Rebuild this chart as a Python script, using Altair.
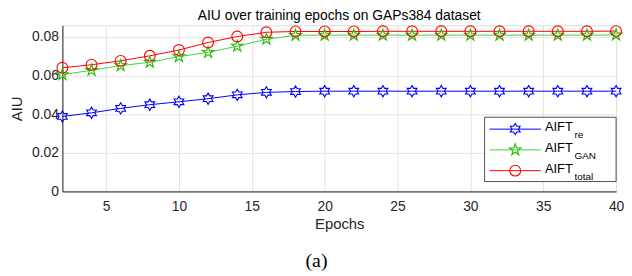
import altair as alt
import pandas as pd

epochs = list(range(2, 41, 2))
aift_re = [0.0388, 0.0407, 0.0430, 0.0449, 0.0464, 0.0480, 0.0500, 0.0513, 0.0517, 0.0519,
           0.0519, 0.0519, 0.0519, 0.0519, 0.0519, 0.0519, 0.0519, 0.0519, 0.0519, 0.0519]
aift_gan = [0.0605, 0.0627, 0.0651, 0.0669, 0.0698, 0.0720, 0.0752, 0.0788, 0.0808, 0.0809,
            0.0809, 0.0809, 0.0809, 0.0809, 0.0809, 0.0809, 0.0809, 0.0809, 0.0809, 0.0810]
aift_total = [0.0640, 0.0656, 0.0676, 0.0702, 0.0732, 0.0771, 0.0802, 0.0824, 0.0828, 0.0828,
              0.0828, 0.0829, 0.0829, 0.0829, 0.0829, 0.0829, 0.0829, 0.0829, 0.0829, 0.0830]
series_names = ["re", "GAN", "total"]
x_ticks = [5, 10, 15, 20, 25, 30, 35, 40]
y_ticks = [0, 0.02, 0.04, 0.06, 0.08]
title_text = "AIU over training epochs on GAPs384 dataset"
caption_text = "(a)"

FONT = "Liberation Sans"
HEX = ("M0,-1L0.2887,-0.5L0.866,-0.5L0.577,0L0.866,0.5L0.2887,0.5L0,1"
       "L-0.2887,0.5L-0.866,0.5L-0.577,0L-0.866,-0.5L-0.2887,-0.5Z")
PENT = ("M0,-1L0.2245,-0.309L0.951,-0.309L0.363,0.118L0.588,0.809L0,0.382"
        "L-0.588,0.809L-0.363,0.118L-0.951,-0.309L-0.2245,-0.309Z")
shapes = [HEX, PENT, "circle"]
line_colors = ["#0000ff", "#3fd43f", "#ff0000"]
marker_colors = ["#0000ff", "#22bb00", "#ff0000"]
sizes = [130, 150, 120]

rows = []
for name, vals in zip(series_names, [aift_re, aift_gan, aift_total]):
    for e, v in zip(epochs, vals):
        rows.append({"epoch": e, "aiu": v, "series": name})
df = pd.DataFrame(rows)

W, H = 560, 168

xenc = alt.X("epoch:Q", title="Epochs",
             scale=alt.Scale(domain=[2, 40], nice=False, zero=False),
             axis=alt.Axis(values=x_ticks, grid=True, gridColor="#e3e3e3", ticks=False, tickSize=0,
                           labelPadding=8, labelFontSize=14, labelFont=FONT, labelColor="#262626",
                           titleFont=FONT, titleFontSize=15, titleFontWeight="normal",
                           titleColor="#262626", titlePadding=3, domainColor="#262626",
                           labelFlush=False))
yenc = alt.Y("aiu:Q", title="AIU",
             scale=alt.Scale(domain=[0, 0.086], nice=False),
             axis=alt.Axis(values=y_ticks, grid=True, gridColor="#e3e3e3", ticks=False, tickSize=0,
                           labelPadding=4, labelFontSize=14, labelFont=FONT, labelColor="#262626",
                           labelExpr="datum.value == 0 ? '0' : format(datum.value, '.2f')",
                           titleFont=FONT, titleFontSize=15, titleFontWeight="normal",
                           titleColor="#262626", titlePadding=7, domainColor="#262626"))

layers = []
for i, name in enumerate(series_names):
    sub = df[df["series"] == name]
    layers.append(alt.Chart(sub).mark_line(strokeWidth=1, color=line_colors[i]).encode(x=xenc, y=yenc))
for i, name in enumerate(series_names):
    sub = df[df["series"] == name]
    layers.append(alt.Chart(sub).mark_point(filled=False, strokeWidth=1.1, shape=shapes[i],
                                            color=marker_colors[i], size=sizes[i], opacity=1)
                  .encode(x=xenc, y=yenc))

one = pd.DataFrame({"k": [0]})

# title as text
layers.append(alt.Chart(one).mark_text(align="center", baseline="alphabetic", font=FONT, fontSize=14,
                                       color="#000000").encode(
    x=alt.value(W / 2), y=alt.value(-5), text=alt.value(title_text)))

# Legend (manual, to allow subscripts)
lx0, lx1, ly0, ly1 = 427, 560, 93, 158
layers.append(alt.Chart(one).mark_rect(fill="white", stroke="#262626", strokeWidth=0.8).encode(
    x=alt.value(lx0), x2=alt.value(lx1), y=alt.value(ly0), y2=alt.value(ly1)))
row_y = [105, 126, 147]
for i, name in enumerate(series_names):
    ry = row_y[i]
    layers.append(alt.Chart(one).mark_rule(strokeWidth=1, color=line_colors[i]).encode(
        x=alt.value(432), x2=alt.value(484), y=alt.value(ry)))
    layers.append(alt.Chart(one).mark_point(filled=False, strokeWidth=1.1, shape=shapes[i],
                                            color=marker_colors[i], size=sizes[i], opacity=1).encode(
        x=alt.value(458), y=alt.value(ry)))
    layers.append(alt.Chart(one).mark_text(align="left", baseline="middle", font=FONT, fontSize=13,
                                           color="#000000").encode(
        x=alt.value(488), y=alt.value(ry - 2), text=alt.value("AIFT")))
    layers.append(alt.Chart(one).mark_text(align="left", baseline="middle", font=FONT, fontSize=10,
                                           color="#000000").encode(
        x=alt.value(518), y=alt.value(ry + 6), text=alt.value(name)))

# caption
layers.append(alt.Chart(one).mark_text(align="center", baseline="middle", font="Liberation Serif",
                                       fontSize=20, color="#000000").encode(
    x=alt.value(257), y=alt.value(238), text=alt.value(caption_text)))

chart = alt.layer(*layers).properties(
    width=W, height=H,
    autosize=alt.AutoSizeParams(type="none"),
    padding={"left": 55, "top": 16, "right": 8, "bottom": 82},
).configure_view(strokeOpacity=0).configure(background="white")

chart.save("out.html", embed_options={"renderer": "svg", "actions": False})
